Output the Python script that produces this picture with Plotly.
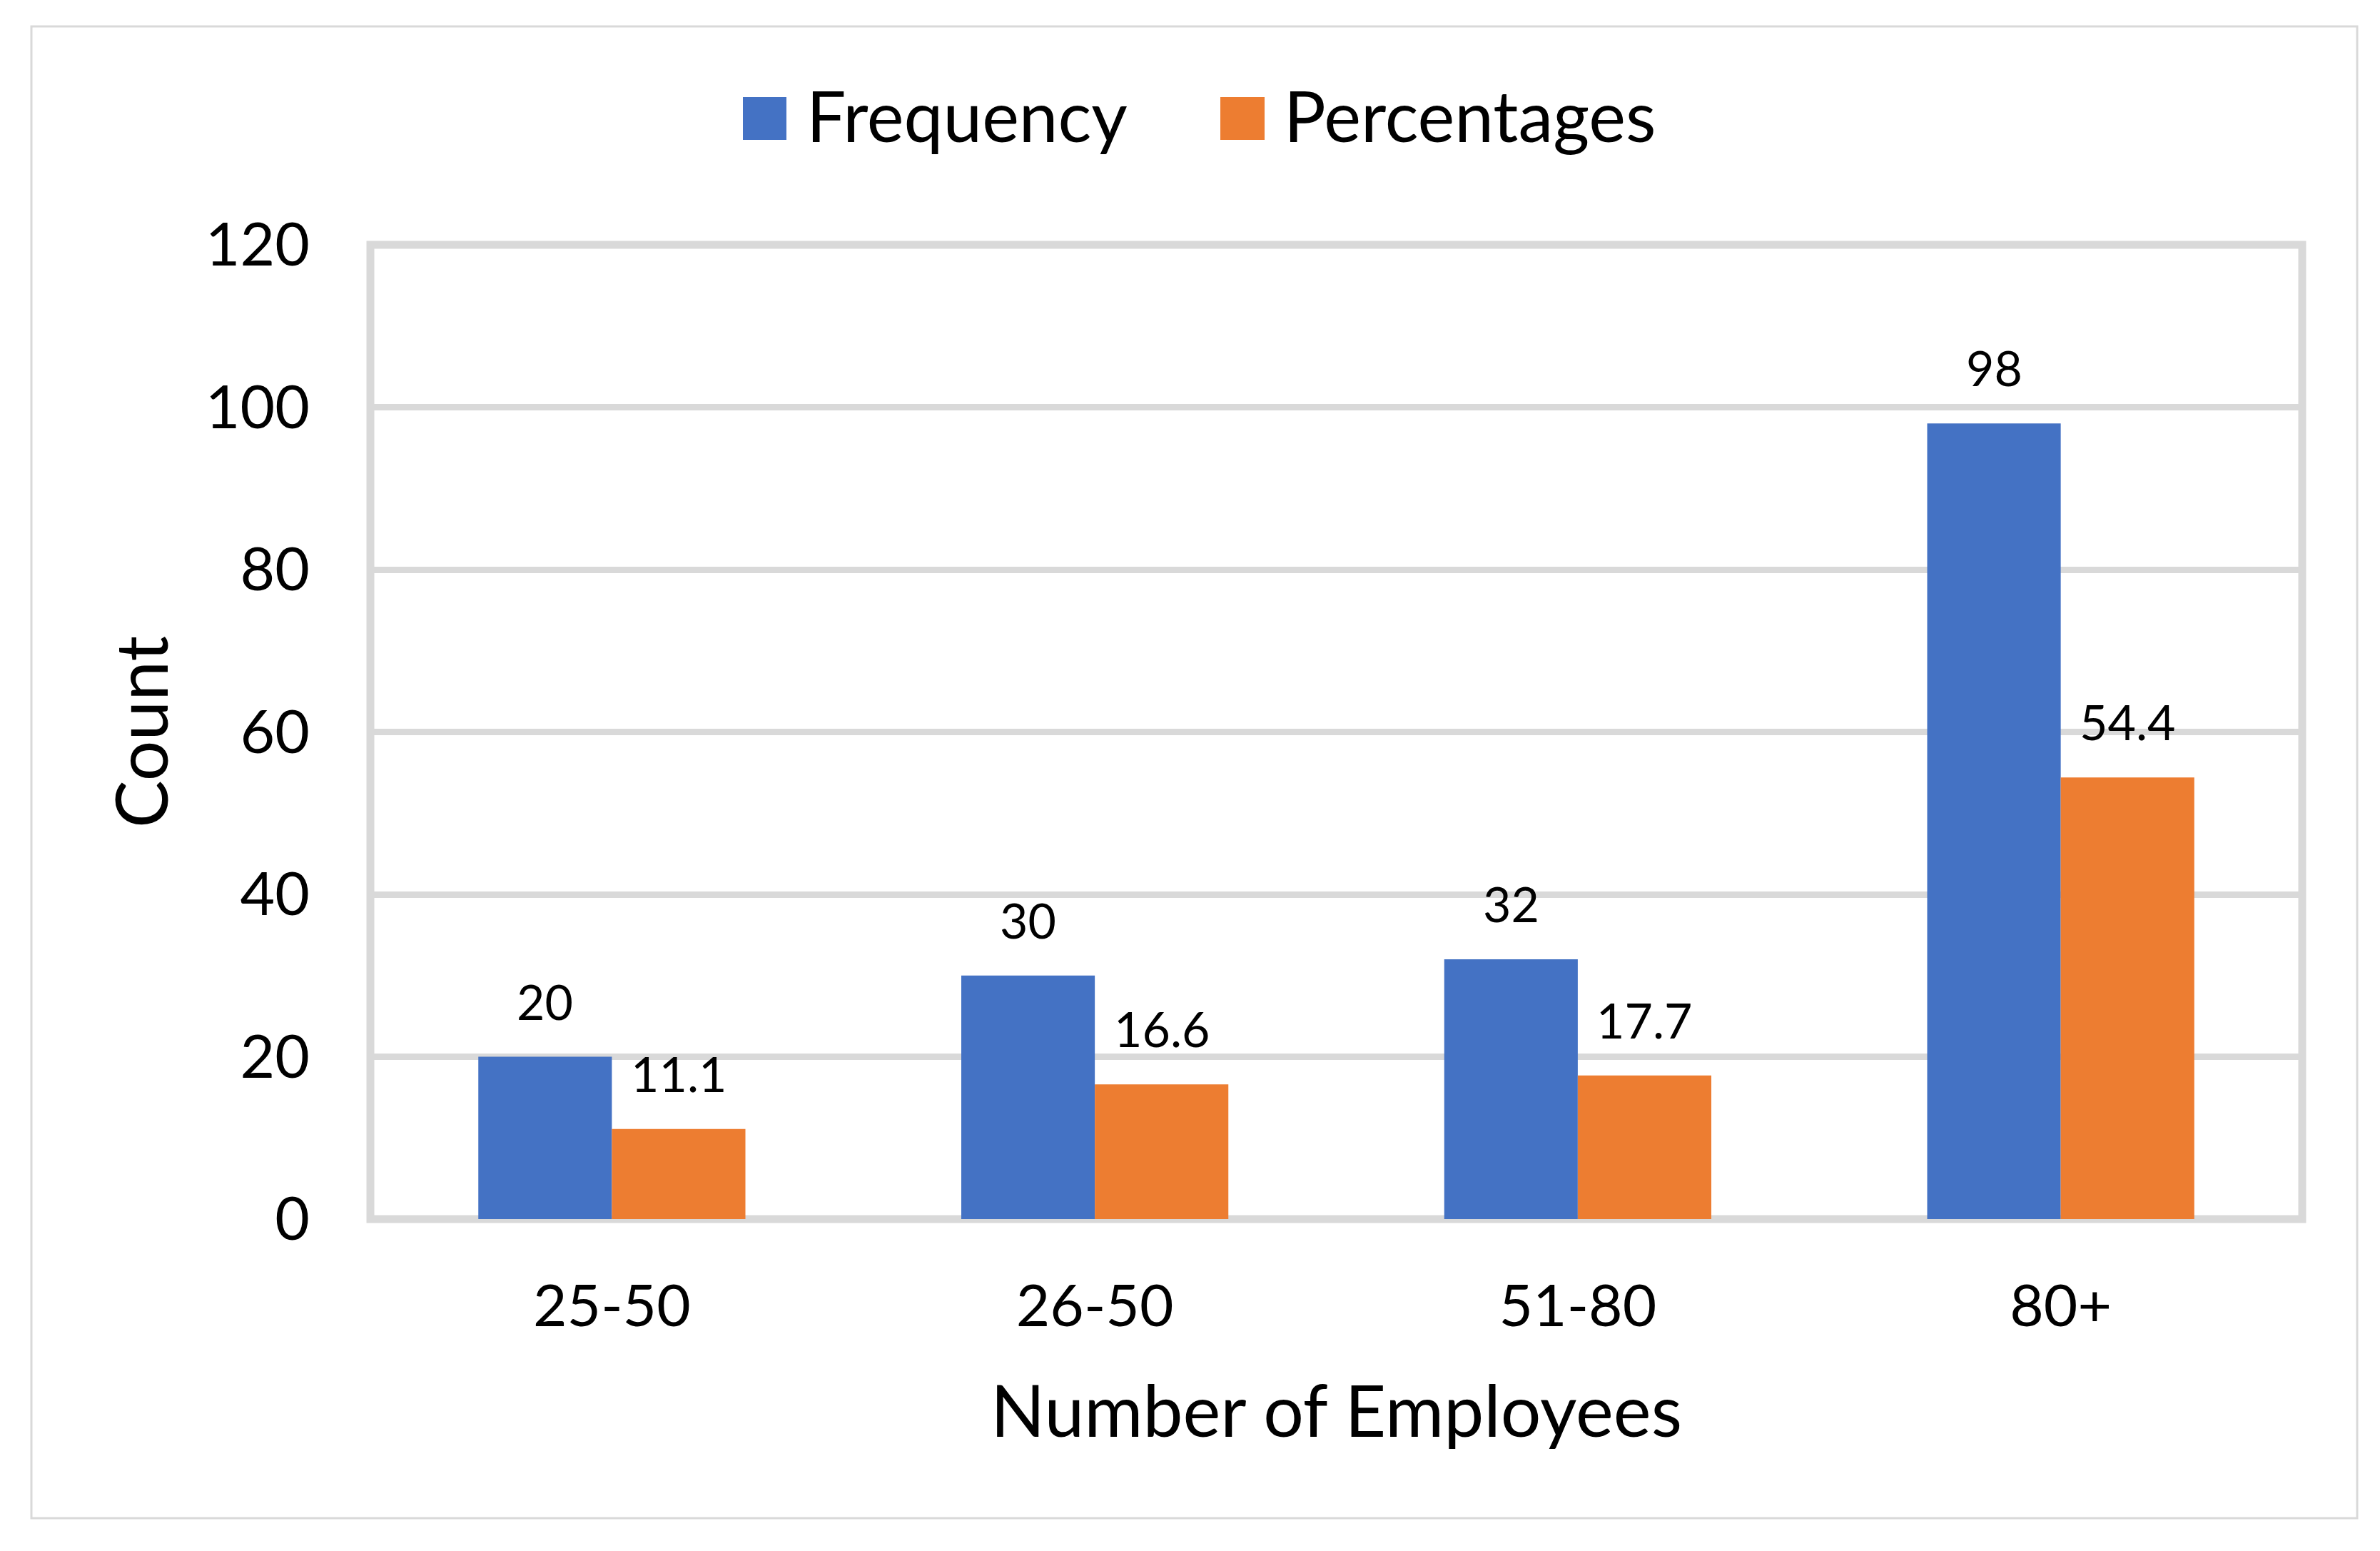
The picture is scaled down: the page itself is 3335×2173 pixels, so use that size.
import plotly.graph_objects as go

# ---- data ----
categories = ["25-50", "26-50", "51-80", "80+"]
frequency = [20, 30, 32, 98]
percentages = [11.1, 16.6, 17.7, 54.4]
y_ticks = [0, 20, 40, 60, 80, 100, 120]
series_names = ["Frequency", "Percentages"]
series_values = [frequency, percentages]
series_colors = ["#4472C4", "#ED7D31"]
x_title = "Number of Employees"
y_title = "Count"

# ---- geometry (pixels, page coords; page body has an 8px margin) ----
OFF = 8
W, H = 3335 - OFF, 2173 - OFF
L, R, T, B = 519 - OFF, 3226 - OFF, 343 - OFF, 1708 - OFF
FONT = "Lato, Carlito, Calibri, sans-serif"
GRID = "#d9d9d9"


def px(x):
    return (x - OFF - L) / (R - L)


def py(y):
    return (B - (y - OFF)) / (B - T)


fig = go.Figure()
for name, vals, col in zip(series_names, series_values, series_colors):
    fig.add_trace(go.Bar(
        x=categories, y=vals, name=name,
        marker=dict(color=col, line=dict(width=0)),
        showlegend=False,
    ))

annotations = []
half_bar_px = 93.5
for k, vals in enumerate(series_values):
    shift = -half_bar_px if k == 0 else half_bar_px
    for c, v in zip(categories, vals):
        annotations.append(dict(
            x=c, y=v, xref="x", yref="y", text=str(v), showarrow=False,
            xshift=shift, yshift=36, yanchor="bottom", xanchor="center",
            font=dict(family=FONT, size=68, color="black"),
        ))

# custom legend (large swatches)
legend_items = [(1041, 1102, 1128), (1710, 1772, 1797)]
shapes = []
for (x0, x1, tx), name, col in zip(legend_items, series_names, series_colors):
    shapes.append(dict(type="rect", xref="paper", yref="paper",
                       x0=px(x0), x1=px(x1), y0=py(196), y1=py(136),
                       fillcolor=col, line=dict(width=0)))
    annotations.append(dict(x=px(tx), y=py(161), xref="paper", yref="paper",
                            text=name, showarrow=False, xanchor="left", yanchor="middle",
                            font=dict(family=FONT, size=98, color="black")))

# plot frame
shapes.append(dict(type="rect", xref="paper", yref="paper", x0=0, x1=1, y0=0, y1=1,
                   line=dict(color=GRID, width=11), layer="below"))
# outer chart border
shapes.append(dict(type="rect", xref="paper", yref="paper",
                   x0=px(44), x1=px(3303), y0=py(2127), y1=py(37),
                   line=dict(color=GRID, width=3)))

fig.update_layout(
    width=W, height=H,
    margin=dict(l=L, r=W - R, t=T, b=H - B, pad=0),
    paper_bgcolor="white", plot_bgcolor="white",
    font=dict(family=FONT, color="black"),
    barmode="group", bargap=0.447, bargroupgap=0,
    showlegend=False,
    shapes=shapes, annotations=annotations,
    xaxis=dict(
        type="category", range=[-0.5, 3.5], showgrid=False, zeroline=False,
        showline=False, ticks="", tickfont=dict(family=FONT, size=82, color="black"),
        ticklabelstandoff=67,
        title=dict(text=x_title, font=dict(family=FONT, size=100, color="black"), standoff=68),
    ),
    yaxis=dict(
        range=[0, 120], tickmode="array", tickvals=y_ticks, showgrid=True,
        gridcolor=GRID, gridwidth=9, zeroline=False, showline=False, ticks="",
        tickfont=dict(family=FONT, size=84, color="black"),
        ticklabelstandoff=84,
        title=dict(text=y_title, font=dict(family=FONT, size=100, color="black"), standoff=18),
    ),
)

fig.write_html("out.html")
